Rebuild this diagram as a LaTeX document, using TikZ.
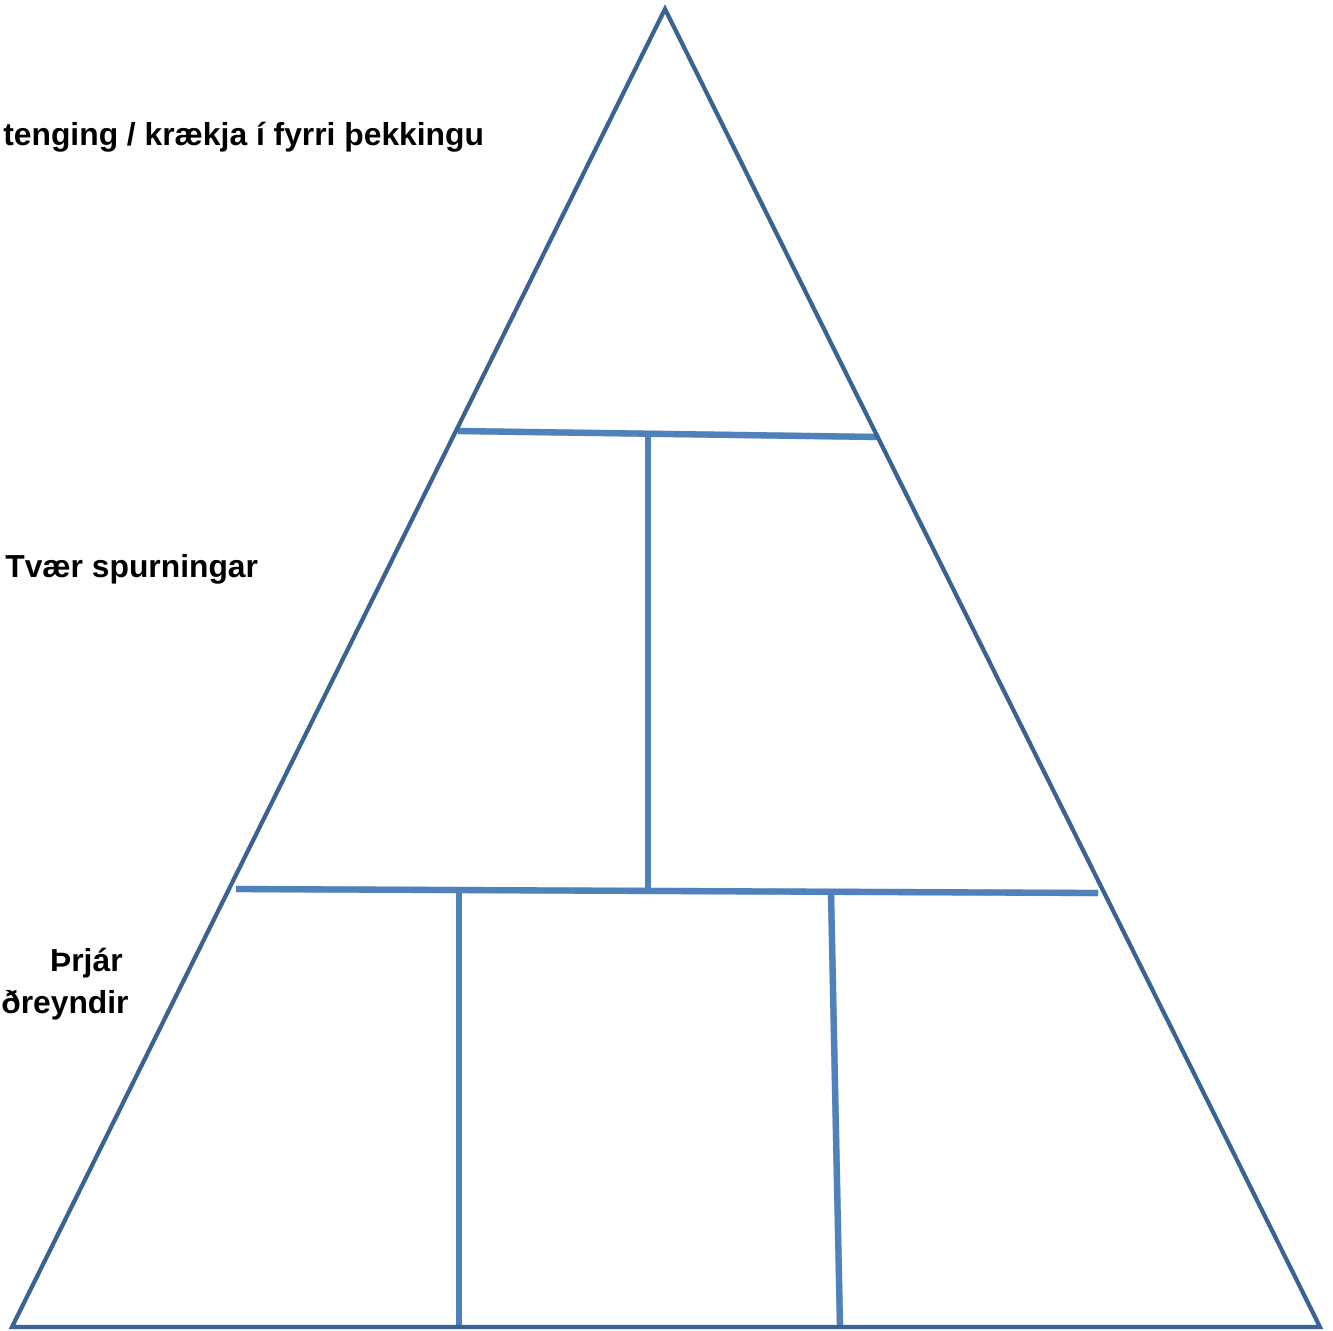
\documentclass[tikz,border=0pt]{standalone}
\usepackage{fontspec}
\setmainfont{Liberation Sans}
\usepackage{xcolor}
\usepackage{tikz}

\definecolor{edgeblue}{HTML}{3A6293}
\definecolor{lineblue}{HTML}{4F81BD}

\begin{document}
\begin{tikzpicture}[x=0.02cm,y=-0.02cm,
  frame/.style={draw=edgeblue,line width=3.2pt*0.75,line join=miter},
  divider/.style={draw=lineblue,line width=4.8pt*0.75},
  shade/.style={draw=black,opacity=.18,line width=5pt*0.75},
  label/.style={inner sep=0pt,font=\bfseries\fontsize{18.1}{21}\selectfont}]
\useasboundingbox (0,0) rectangle (1333,1330);

% corners of the pyramid
\coordinate (top) at (665,9);
\coordinate (bl) at (12,1327);
\coordinate (br) at (1320,1327);

% ends of the dividers
\coordinate (a1) at (458,431);
\coordinate (a2) at (879,437);
\coordinate (a3) at (648,434);
\coordinate (a4) at (648,890);
\coordinate (b1) at (236,889);
\coordinate (b2) at (1098,893);
\coordinate (b3) at (459,891);
\coordinate (b4) at (459,1327);
\coordinate (b5) at (831,892);
\coordinate (b6) at (840,1327);

% soft shadow under the dividers
\begin{scope}[shift={(2,3)}]
\draw [shade] (a1) -- (a2);
\draw [shade] (a3) -- (a4);
\draw [shade] (b1) -- (b2);
\draw [shade] (b3) -- (b4);
\draw [shade] (b5) -- (b6);
\end{scope}

\draw [divider] (a1) -- (a2);
\draw [divider] (a3) -- (a4);
\draw [divider] (b1) -- (b2);
\draw [divider] (b3) -- (b4);
\draw [divider] (b5) -- (b6);

\draw [frame] (top) -- (bl) -- (br) -- cycle;

\node [label,anchor=base west] (hook) at (3,145) {tenging / krækja í fyrri þekkingu};
\node [label,anchor=base west] (quest) at (5,577) {Tvær spurningar};
\node [label,anchor=base east] (three) at (123,971) {Þrjár};
\node [label,anchor=base west] (facts) at (1,1013) {ðreyndir};
\end{tikzpicture}
\end{document}
